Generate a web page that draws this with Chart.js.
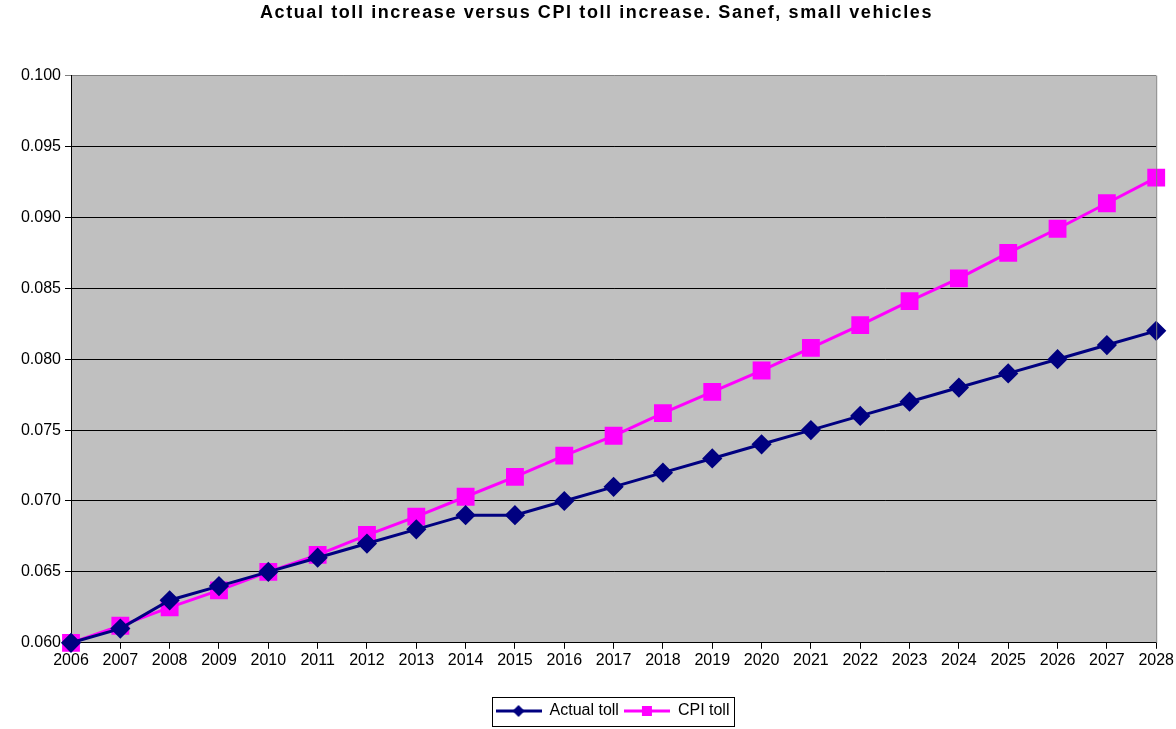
<!DOCTYPE html>
<html>
<head>
<meta charset="utf-8">
<script src="https://cdn.jsdelivr.net/npm/chart.js@4/dist/chart.umd.min.js"></script>
<style>
  html, body { margin: 0; padding: 0; background: #fff; }
  #wrap { width: 1176px; height: 729px; }
</style>
</head>
<body>
<div id="wrap"><canvas id="chart"></canvas></div>
<script>
// values
const years = ['2006', '2007', '2008', '2009', '2010', '2011', '2012', '2013', '2014', '2015', '2016',
  '2017', '2018', '2019', '2020', '2021', '2022', '2023', '2024', '2025', '2026', '2027', '2028'];
const actualToll = [0.060, 0.061, 0.063, 0.064, 0.065, 0.066, 0.067, 0.068, 0.069, 0.069, 0.070,
  0.071, 0.072, 0.073, 0.074, 0.075, 0.076, 0.077, 0.078, 0.079, 0.080, 0.081, 0.082];
const cpiToll = [0.0600, 0.0612, 0.0625, 0.0637, 0.0650, 0.0662, 0.0676, 0.0689, 0.0703, 0.0717, 0.0732,
  0.0746, 0.0762, 0.0777, 0.0792, 0.0808, 0.0824, 0.0841, 0.0857, 0.0875, 0.0892, 0.0910, 0.0928];
const yMin = 0.060, yMax = 0.100, yStep = 0.005;

const FONT = "'Liberation Sans', Arial, sans-serif";
const NAVY = '#000080';
const MAGENTA = '#FF00FF';

// little legend swatch: line with the marker in the middle
const makeSwatch = (color, shape) => {
    const c = document.createElement('canvas');
    c.width = 46; c.height = 16;
    const g = c.getContext('2d');
    g.strokeStyle = color;
    g.lineWidth = 3;
    g.beginPath(); g.moveTo(0, 8); g.lineTo(46, 8); g.stroke();
    g.fillStyle = color;
    g.beginPath();
    if (shape === 'diamond') {
        g.moveTo(23, 2); g.lineTo(29, 8); g.lineTo(23, 14); g.lineTo(17, 8);
    } else {
        g.rect(18, 3, 10, 10);
    }
    g.closePath(); g.fill();
    return c;
};

const TITLE_SHIFT = 18;
const LEGEND_SHIFT = 34;

const plotBg = {
    id: 'plotBg',
    afterLayout(chart) {
        // the original title is wider-spaced and sits a bit right of centre
        const t = chart.titleBlock;
        if (t && !t._patched) {
            const orig = t.draw;
            t.draw = function () {
                const ctx = this.ctx;
                ctx.save();
                ctx.letterSpacing = '1.6px';
                ctx.translate(TITLE_SHIFT, 0);
                orig.call(this);
                ctx.restore();
            };
            t._patched = true;
        }
        const lg = chart.legend;
        lg.left += LEGEND_SHIFT;
        lg.right += LEGEND_SHIFT;
        (lg.legendHitBoxes || []).forEach(b => { b.left += LEGEND_SHIFT; });
    },
    beforeDraw(chart) {
        const { ctx, chartArea: a } = chart;
        ctx.save();
        ctx.fillStyle = '#C0C0C0';
        ctx.fillRect(a.left, a.top, a.right - a.left, a.bottom - a.top);
        ctx.restore();
    },
    afterDraw(chart) {
        const { ctx, chartArea: a } = chart;
        ctx.save();
        ctx.strokeStyle = '#808080';
        ctx.lineWidth = 1;
        ctx.beginPath();
        ctx.moveTo(a.right + 0.5, a.top);
        ctx.lineTo(a.right + 0.5, a.bottom);
        ctx.stroke();
        // border round the legend
        const boxes = chart.legend.legendHitBoxes;
        if (boxes && boxes.length) {
            const l = Math.min(...boxes.map(b => b.left)) - 4;
            const r = Math.max(...boxes.map(b => b.left + b.width)) + 4;
            const t = Math.min(...boxes.map(b => b.top)) - 6;
            const btm = Math.max(...boxes.map(b => b.top + b.height)) + 7;
            ctx.strokeStyle = '#000';
            ctx.strokeRect(Math.round(l) + 0.5, Math.round(t) + 0.5, Math.round(r - l), Math.round(btm - t));
        }
        ctx.restore();
    }
};

const swatches = [makeSwatch(NAVY, 'diamond'), makeSwatch(MAGENTA, 'square')];

new Chart(document.getElementById('chart'), {
    type: 'line',
    data: {
        labels: years,
        datasets: [{
            label: 'Actual toll',
            data: actualToll,
            borderColor: NAVY,
            backgroundColor: NAVY,
            borderWidth: 3,
            pointStyle: 'rectRot',
            pointRadius: 8,
            pointHoverRadius: 8,
            tension: 0
        }, {
            label: 'CPI toll',
            data: cpiToll,
            borderColor: MAGENTA,
            backgroundColor: MAGENTA,
            borderWidth: 3,
            pointStyle: 'rect',
            pointRadius: 10.5,
            pointHoverRadius: 10.5,
            tension: 0
        }]
    },
    plugins: [plotBg],
    options: {
        responsive: true,
        maintainAspectRatio: false,
        animation: false,
        clip: false,
        layout: { padding: { left: 0, right: 19, top: 0, bottom: 0 } },
        plugins: {
            title: {
                display: true,
                text: 'Actual toll increase versus CPI toll increase. Sanef, small vehicles',
                color: '#000',
                font: { family: FONT, size: 18, weight: 'bold' },
                padding: { top: 2, bottom: 52 }
            },
            legend: {
                position: 'bottom',
                padding: 6,
                labels: {
                    usePointStyle: true,
                    pointStyleWidth: 46,
                    color: '#000',
                    font: { family: FONT, size: 16 },
                    padding: 5,
                    generateLabels: (chart) => chart.data.datasets.map((ds, i) => ({
                        text: ds.label,
                        pointStyle: swatches[i],
                        fillStyle: ds.borderColor,
                        strokeStyle: ds.borderColor,
                        lineWidth: 0,
                        datasetIndex: i,
                        fontColor: '#000'
                    }))
                }
            },
            tooltip: { enabled: false }
        },
        scales: {
            x: {
                offset: false,
                afterFit: (scale) => { scale.height += 26; },
                grid: { drawOnChartArea: false, color: '#000', tickLength: 6 },
                border: { color: '#000', width: 1 },
                ticks: { color: '#000', font: { family: FONT, size: 16 }, padding: 2, maxRotation: 0, autoSkip: false }
            },
            y: {
                min: yMin,
                max: yMax,
                afterFit: (scale) => { scale.width = 71; },
                grid: {
                    color: (c) => (c.tick && Math.abs(c.tick.value - yMax) < 1e-9 ? '#808080' : '#000'),
                    tickLength: 6
                },
                border: { color: '#000', width: 1 },
                ticks: {
                    stepSize: yStep,
                    color: '#000',
                    font: { family: FONT, size: 16 },
                    padding: 4,
                    callback: (v) => v.toFixed(3)
                }
            }
        }
    }
});
</script>
</body>
</html>
